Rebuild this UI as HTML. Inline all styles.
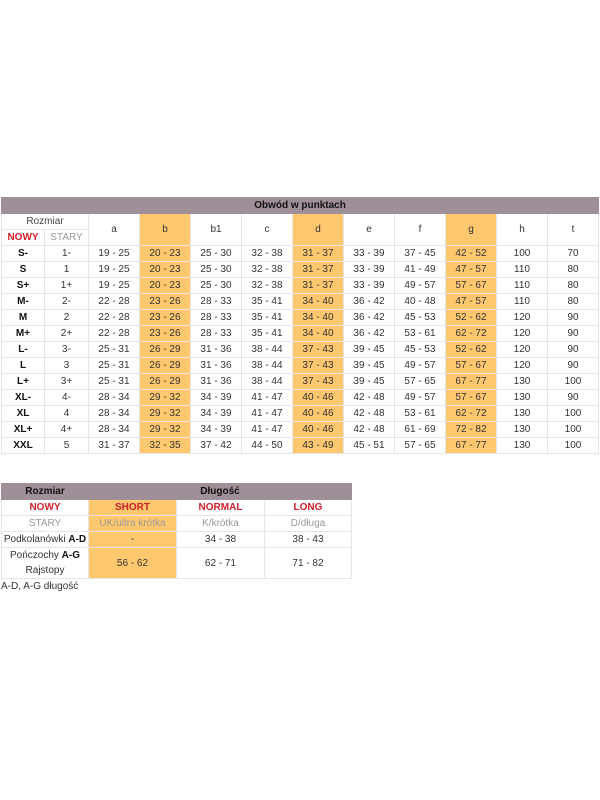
<!DOCTYPE html>
<html><head><style>
body{margin:0;width:600px;height:800px;background:#fff;font-family:"Liberation Sans",sans-serif;position:relative;overflow:hidden}
table{border-collapse:collapse;table-layout:fixed;position:absolute;font-size:10px;color:#333}
td{border:1px solid #e6e6e6;text-align:center;padding:0;height:15px;white-space:nowrap}
.h{background:#9e8f98;color:#111;font-weight:bold;border-color:#9e8f98}
.o{background:#ffc76e}
.r{color:#d0202a;font-weight:bold}
.g{color:#999}
.b{font-weight:bold;color:#111}
</style></head><body>
<table style="left:1px;top:197px;width:597px">
<colgroup><col style="width:43px"><col style="width:44px"><col style="width:51px"><col style="width:51px"><col style="width:51px"><col style="width:51px"><col style="width:51px"><col style="width:51px"><col style="width:51px"><col style="width:51px"><col style="width:51px"><col style="width:51px"></colgroup>
<tr><td colspan="12" class="h" style="height:15px">Obwód w punktach</td></tr>
<tr><td colspan="2" style="color:#444">Rozmiar</td><td rowspan="2">a</td><td rowspan="2" class="o">b</td><td rowspan="2">b1</td><td rowspan="2">c</td><td rowspan="2" class="o">d</td><td rowspan="2">e</td><td rowspan="2">f</td><td rowspan="2" class="o">g</td><td rowspan="2">h</td><td rowspan="2">t</td></tr>
<tr><td class="r">NOWY</td><td class="g">STARY</td></tr>
<tr><td class="b">S-</td><td>1-</td><td>19 - 25</td><td class="o">20 - 23</td><td>25 - 30</td><td>32 - 38</td><td class="o">31 - 37</td><td>33 - 39</td><td>37 - 45</td><td class="o">42 - 52</td><td>100</td><td>70</td></tr>
<tr><td class="b">S</td><td>1</td><td>19 - 25</td><td class="o">20 - 23</td><td>25 - 30</td><td>32 - 38</td><td class="o">31 - 37</td><td>33 - 39</td><td>41 - 49</td><td class="o">47 - 57</td><td>110</td><td>80</td></tr>
<tr><td class="b">S+</td><td>1+</td><td>19 - 25</td><td class="o">20 - 23</td><td>25 - 30</td><td>32 - 38</td><td class="o">31 - 37</td><td>33 - 39</td><td>49 - 57</td><td class="o">57 - 67</td><td>110</td><td>80</td></tr>
<tr><td class="b">M-</td><td>2-</td><td>22 - 28</td><td class="o">23 - 26</td><td>28 - 33</td><td>35 - 41</td><td class="o">34 - 40</td><td>36 - 42</td><td>40 - 48</td><td class="o">47 - 57</td><td>110</td><td>80</td></tr>
<tr><td class="b">M</td><td>2</td><td>22 - 28</td><td class="o">23 - 26</td><td>28 - 33</td><td>35 - 41</td><td class="o">34 - 40</td><td>36 - 42</td><td>45 - 53</td><td class="o">52 - 62</td><td>120</td><td>90</td></tr>
<tr><td class="b">M+</td><td>2+</td><td>22 - 28</td><td class="o">23 - 26</td><td>28 - 33</td><td>35 - 41</td><td class="o">34 - 40</td><td>36 - 42</td><td>53 - 61</td><td class="o">62 - 72</td><td>120</td><td>90</td></tr>
<tr><td class="b">L-</td><td>3-</td><td>25 - 31</td><td class="o">26 - 29</td><td>31 - 36</td><td>38 - 44</td><td class="o">37 - 43</td><td>39 - 45</td><td>45 - 53</td><td class="o">52 - 62</td><td>120</td><td>90</td></tr>
<tr><td class="b">L</td><td>3</td><td>25 - 31</td><td class="o">26 - 29</td><td>31 - 36</td><td>38 - 44</td><td class="o">37 - 43</td><td>39 - 45</td><td>49 - 57</td><td class="o">57 - 67</td><td>120</td><td>90</td></tr>
<tr><td class="b">L+</td><td>3+</td><td>25 - 31</td><td class="o">26 - 29</td><td>31 - 36</td><td>38 - 44</td><td class="o">37 - 43</td><td>39 - 45</td><td>57 - 65</td><td class="o">67 - 77</td><td>130</td><td>100</td></tr>
<tr><td class="b">XL-</td><td>4-</td><td>28 - 34</td><td class="o">29 - 32</td><td>34 - 39</td><td>41 - 47</td><td class="o">40 - 46</td><td>42 - 48</td><td>49 - 57</td><td class="o">57 - 67</td><td>130</td><td>90</td></tr>
<tr><td class="b">XL</td><td>4</td><td>28 - 34</td><td class="o">29 - 32</td><td>34 - 39</td><td>41 - 47</td><td class="o">40 - 46</td><td>42 - 48</td><td>53 - 61</td><td class="o">62 - 72</td><td>130</td><td>100</td></tr>
<tr><td class="b">XL+</td><td>4+</td><td>28 - 34</td><td class="o">29 - 32</td><td>34 - 39</td><td>41 - 47</td><td class="o">40 - 46</td><td>42 - 48</td><td>61 - 69</td><td class="o">72 - 82</td><td>130</td><td>100</td></tr>
<tr><td class="b">XXL</td><td>5</td><td>31 - 37</td><td class="o">32 - 35</td><td>37 - 42</td><td>44 - 50</td><td class="o">43 - 49</td><td>45 - 51</td><td>57 - 65</td><td class="o">67 - 77</td><td>130</td><td>100</td></tr>
</table>

<table style="left:1px;top:483px;width:350px">
<colgroup><col style="width:87px"><col style="width:88px"><col style="width:88px"><col style="width:87px"></colgroup>
<tr><td class="h">Rozmiar</td><td colspan="3" class="h">Długość</td></tr>
<tr><td class="r">NOWY</td><td class="r o">SHORT</td><td class="r">NORMAL</td><td class="r">LONG</td></tr>
<tr><td class="g">STARY</td><td class="g o">UK/ultra krótka</td><td class="g">K/krótka</td><td class="g">D/długa</td></tr>
<tr><td>Podkolanówki <b style="color:#111">A-D</b></td><td class="o">-</td><td>34 - 38</td><td>38 - 43</td></tr>
<tr><td style="height:29px;line-height:15px">Pończochy <b style="color:#111">A-G</b><br>Rajstopy</td><td class="o">56 - 62</td><td>62 - 71</td><td>71 - 82</td></tr>
</table>
<div style="position:absolute;left:1px;top:581px;font-size:10px;color:#333">A-D, A-G długość</div>
</body></html>
